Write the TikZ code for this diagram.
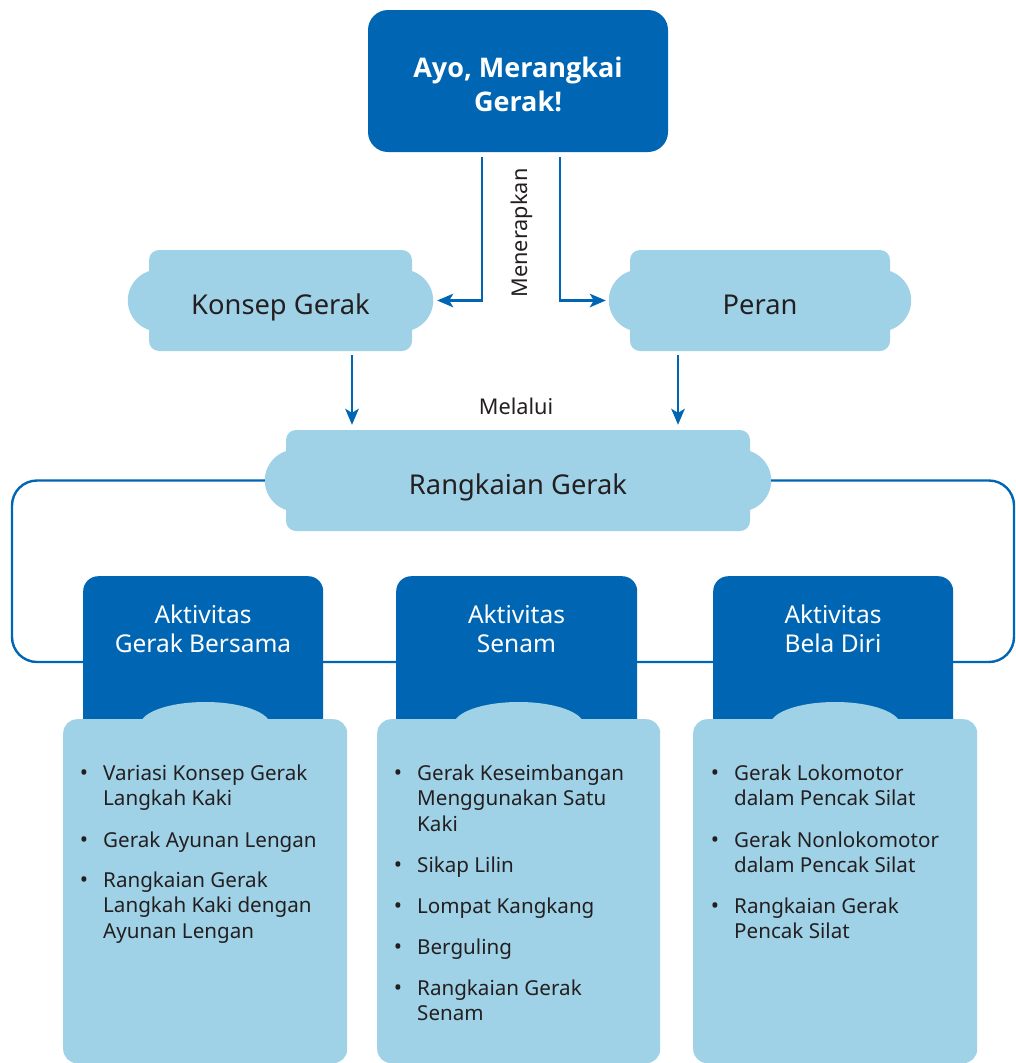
\documentclass[tikz,border=0pt]{standalone}
\usepackage{fontspec}
\setmainfont{Noto Sans}
\newfontfamily\titlefont{Open Sans}
\usetikzlibrary{arrows.meta}
\definecolor{dblue}{RGB}{0,102,179}
\definecolor{lblue}{RGB}{160,210,231}
\definecolor{ink}{RGB}{35,31,32}
\pgfdeclarelayer{bg}
\pgfsetlayers{bg,main}
\begin{document}
\begin{tikzpicture}[x=1pt,y=-1pt,
  cloudbox/.style={fill=lblue, rounded corners=10pt, inner sep=0pt, text=ink, text height=27pt, text depth=0pt, font=\fontsize{27.3}{30}\selectfont},
  bulge/.style={fill=lblue, rounded corners=31pt},
  hbox/.style={fill=dblue, rounded corners=15pt, inner sep=0pt},
  htext/.style={text=white, align=center, font=\fontsize{24.5}{29}\selectfont, inner sep=0pt},
  lbox/.style={fill=lblue, rounded corners=14pt, inner sep=0pt},
  itemtext/.style={anchor=base west, align=left, inner sep=0pt, text=ink, font=\fontsize{20.6}{25.7}\selectfont},
  bul/.style={anchor=base, inner sep=0pt, text=ink, font=\fontsize{22}{25.7}\selectfont},
  conn/.style={draw=dblue, line width=2.4pt},
  arr/.style={conn, -{Stealth[length=16pt,width=13.5pt,inset=4pt]}},
  lbl/.style={text=ink, inner sep=0pt, font=\fontsize{21.7}{24}\selectfont},
]
\useasboundingbox (0,0) rectangle (1016,1063);

% ---- top box
\node[hbox, minimum width=300pt, minimum height=142pt, rounded corners=20pt] (top) at (518,81) {};
\node[text=white, align=center, inner sep=0pt,
      font=\titlefont\bfseries\fontsize{27}{34}\selectfont] (toptext) at (518,84.5) {Ayo, Merangkai\\Gerak!};

% ---- clouds
\node[cloudbox, minimum width=263pt, minimum height=101pt] (konsep) at (280.5,300.5) {Konsep Gerak};
\coordinate (kW) at ([xshift=-21pt]konsep.west);
\coordinate (kE) at ([xshift=21pt]konsep.east);
\node[cloudbox, minimum width=260pt, minimum height=101pt] (peran) at (760,300.5) {Peran};
\coordinate (pW) at ([xshift=-21pt]peran.west);
\coordinate (pE) at ([xshift=21pt]peran.east);
\node[cloudbox, minimum width=464pt, minimum height=101pt] (rg) at (518,480.5) {Rangkaian Gerak};
\coordinate (rgW) at ([xshift=-21pt]rg.west);
\coordinate (rgE) at ([xshift=21pt]rg.east);
\begin{pgfonlayer}{bg}
  \fill[bulge] ([yshift=31pt]kW) rectangle ([yshift=-31pt]kE);
  \fill[bulge] ([yshift=31pt]pW) rectangle ([yshift=-31pt]pE);
  \fill[bulge] ([yshift=31pt]rgW) rectangle ([yshift=-31pt]rgE);
\end{pgfonlayer}

% ---- arrows from top
\coordinate (t1) at ([xshift=-36pt]top.south);
\coordinate (t2) at ([xshift=42pt]top.south);
\draw[arr, shorten <=5pt, shorten >=4pt] (t1) |- (kE);
\draw[arr, shorten <=5pt, shorten >=3pt] (t2) |- (pW);
\node[lbl, rotate=90] (men) at (522,233) {Menerapkan};

% ---- arrows to Rangkaian
\coordinate (k1) at ([xshift=71.5pt]konsep.south);
\coordinate (p1) at ([xshift=-82pt]peran.south);
\draw[arr, shorten <=4pt, shorten >=5pt] (k1) -- (k1 |- rg.north);
\draw[arr, shorten <=4pt, shorten >=5pt] (p1) -- (p1 |- rg.north);
\node[lbl] (mel) at (516,406) {Melalui};

% ---- loop line
\coordinate (loopL) at (12,662);
\coordinate (loopR) at (1014,662);
\draw[conn, rounded corners=25pt] (rgW) -| (loopL) -- (loopR) |- (rgE);

% ---- head boxes
\node[hbox, anchor=north west, minimum width=240pt, minimum height=170pt] (h1) at (83,576) {};
\node[hbox, anchor=north west, minimum width=241pt, minimum height=170pt] (h2) at (396,576) {};
\node[hbox, anchor=north west, minimum width=240pt, minimum height=170pt] (h3) at (713,576) {};
\node[htext] (h1t) at (203,628.5) {Aktivitas\\Gerak Bersama};
\node[htext] (h2t) at (516.5,628.5) {Aktivitas\\Senam};
\node[htext] (h3t) at (833,628.5) {Aktivitas\\Bela Diri};

% ---- light boxes with domes
\node[lbox, anchor=north west, minimum width=284pt, minimum height=344pt] (l1) at (63,719) {};
\node[lbox, anchor=north west, minimum width=283pt, minimum height=344pt] (l2) at (377,719) {};
\node[lbox, anchor=north west, minimum width=284pt, minimum height=344pt] (l3) at (693,719) {};
\fill[lblue] ([yshift=-6pt]l1.north) ellipse [x radius=65pt, y radius=23pt];
\fill[lblue] ([yshift=-6pt]l2.north) ellipse [x radius=65pt, y radius=23pt];
\fill[lblue] ([yshift=-6pt]l3.north) ellipse [x radius=65pt, y radius=23pt];

% ---- items box 1 (anchor = baseline of last line)
\node[itemtext] (i11) at (103,805.7) {Variasi Konsep Gerak\\Langkah Kaki};
\node[itemtext] (i12) at (103,847) {Gerak Ayunan Lengan};
\node[itemtext] (i13) at (103,938.4) {Rangkaian Gerak\\Langkah Kaki dengan\\Ayunan Lengan};
\node[bul] (b11) at (84,780) {•};
\node[bul] (b12) at (84,847) {•};
\node[bul] (b13) at (84,887) {•};

% ---- items box 2
\node[itemtext] (i21) at (417,831.4) {Gerak Keseimbangan\\Menggunakan Satu\\Kaki};
\node[itemtext] (i22) at (417,872) {Sikap Lilin};
\node[itemtext] (i23) at (417,913) {Lompat Kangkang};
\node[itemtext] (i24) at (417,954) {Berguling};
\node[itemtext] (i25) at (417,1020.7) {Rangkaian Gerak\\Senam};
\node[bul] (b21) at (398,780) {•};
\node[bul] (b22) at (398,872) {•};
\node[bul] (b23) at (398,913) {•};
\node[bul] (b24) at (398,954) {•};
\node[bul] (b25) at (398,995) {•};

% ---- items box 3
\node[itemtext] (i31) at (734,805.7) {Gerak Lokomotor\\dalam Pencak Silat};
\node[itemtext] (i32) at (734,872.7) {Gerak Nonlokomotor\\dalam Pencak Silat};
\node[itemtext] (i33) at (734,938.7) {Rangkaian Gerak\\Pencak Silat};
\node[bul] (b31) at (715,780) {•};
\node[bul] (b32) at (715,847) {•};
\node[bul] (b33) at (715,913) {•};
\end{tikzpicture}
\end{document}
